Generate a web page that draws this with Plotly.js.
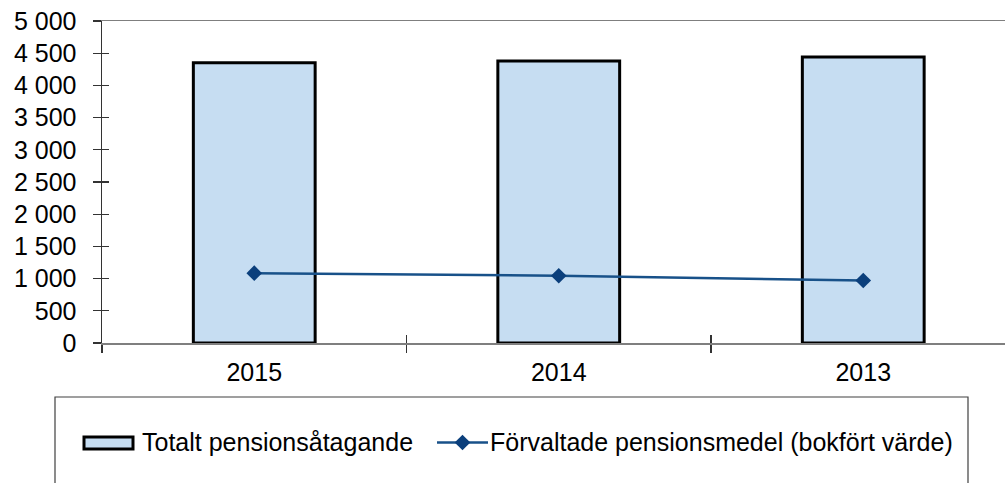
<!DOCTYPE html>
<html>
<head>
<meta charset="utf-8">
<script src="https://cdn.plot.ly/plotly-3.0.1.min.js"></script>
<style>html,body{margin:0;padding:0;background:#fff;}#chart{width:1005px;height:483px;}</style>
</head>
<body>
<div id="chart"></div>
<script>
// ---- data ----
var categories = ["2015", "2014", "2013"];
var totalPension = [4350, 4380, 4440];
var managedFunds = [1085, 1045, 970];
var seriesNames = ["Totalt pensionsåtagande", "Förvaltade pensionsmedel (bokfört värde)"];
var yTickValues = [0, 500, 1000, 1500, 2000, 2500, 3000, 3500, 4000, 4500, 5000];
var yTickLabels = ["0", "500", "1 000", "1 500", "2 000", "2 500", "3 000", "3 500", "4 000", "4 500", "5 000"];

// ---- layout geometry ----
var W = 1005, H = 483;
var M = {l: 102, r: 0, t: 21, b: 140};
var plotW = W - M.l - M.r, plotH = H - M.t - M.b;
function px(x) { return (x - M.l) / plotW; }
function py(y) { return (H - M.b - y) / plotH; }

var FONT = "Liberation Sans, Arial, sans-serif";
var FS = 25;
var lineColor = "#185189";
var markerColor = "#0B3F7C";
var barFill = "#C6DDF2";

var traces = [
  {
    type: "bar", x: categories, y: totalPension, name: seriesNames[0],
    width: 0.4,
    marker: {color: barFill, line: {color: "#000", width: 3}},
    showlegend: false, hoverinfo: "x+y"
  },
  {
    type: "scatter", mode: "lines+markers", x: categories, y: managedFunds, name: seriesNames[1],
    line: {color: lineColor, width: 2.5},
    marker: {symbol: "diamond", size: 12, color: markerColor},
    showlegend: false, hoverinfo: "x+y"
  }
];

var xRange = [-0.5, (plotW / 304.5) - 0.5];

var layout = {
  width: W, height: H,
  margin: M,
  paper_bgcolor: "#fff", plot_bgcolor: "#fff",
  font: {family: FONT, size: FS, color: "#000"},
  showlegend: false,
  xaxis: {
    type: "category", range: xRange,
    showgrid: false, zeroline: false,
    showline: true, linecolor: "#7f7f7f", linewidth: 1.5, mirror: true,
    ticks: "outside", tickson: "boundaries", ticklen: 8, tickcolor: "#333", tickwidth: 1.2,
    ticklabelstandoff: 6,
    tickfont: {family: FONT, size: FS, color: "#000"}
  },
  xaxis2: {
    overlaying: "x", range: xRange, showgrid: false, zeroline: false, showline: false,
    ticks: "inside", ticklen: 8, tickcolor: "#333", tickwidth: 1.2,
    tickvals: [0.5, 1.5], showticklabels: false
  },
  yaxis: {
    range: [0, 5000],
    showgrid: false, zeroline: false,
    showline: true, linecolor: "#333", linewidth: 1.5,
    tickvals: yTickValues, ticktext: yTickLabels,
    ticks: "outside", ticklen: 8, tickcolor: "#333", tickwidth: 1.2,
    ticklabelstandoff: 11,
    tickfont: {family: FONT, size: FS, color: "#000"}
  },
  yaxis2: {
    overlaying: "y", range: [0, 5000], showgrid: false, zeroline: false, showline: false,
    tickvals: yTickValues, ticks: "inside", ticklen: 7, tickcolor: "#333", tickwidth: 1.2,
    showticklabels: false
  },
  shapes: [
    {type: "rect", xref: "paper", yref: "paper", x0: px(55), x1: px(968), y0: py(397), y1: py(520),
     line: {color: "#404040", width: 1.2}, fillcolor: "rgba(0,0,0,0)", layer: "above"},
    {type: "rect", xref: "paper", yref: "paper", x0: px(84), x1: px(133), y0: py(437), y1: py(449),
     line: {color: "#000", width: 3}, fillcolor: barFill, layer: "above"},
    {type: "line", xref: "paper", yref: "paper", x0: px(437), x1: px(488), y0: py(442.5), y1: py(442.5),
     line: {color: lineColor, width: 2.5}, layer: "above"}
  ],
  annotations: [
    {xref: "paper", yref: "paper", x: px(140), y: py(442), xanchor: "left", yanchor: "middle",
     text: seriesNames[0], showarrow: false, font: {family: FONT, size: FS, color: "#000"}},
    {xref: "paper", yref: "paper", x: px(488), y: py(442), xanchor: "left", yanchor: "middle",
     text: seriesNames[1], showarrow: false, font: {family: FONT, size: FS, color: "#000"}}
  ]
};

traces.push({type: "scatter", x: [0], y: [0], xaxis: "x2", yaxis: "y2", mode: "markers",
  marker: {opacity: 0}, showlegend: false, hoverinfo: "skip"});
var dx = 462.5, dy = 442.5, r = 7.8;
layout.shapes.push({type: "path", xref: "paper", yref: "paper",
  path: "M " + px(dx - r) + " " + py(dy) + " L " + px(dx) + " " + py(dy - r) + " L " + px(dx + r) + " " + py(dy) + " L " + px(dx) + " " + py(dy + r) + " Z",
  fillcolor: markerColor, line: {color: markerColor, width: 0}, layer: "above"});

Plotly.newPlot("chart", traces, layout, {displayModeBar: false, staticPlot: true});
</script>
</body>
</html>
